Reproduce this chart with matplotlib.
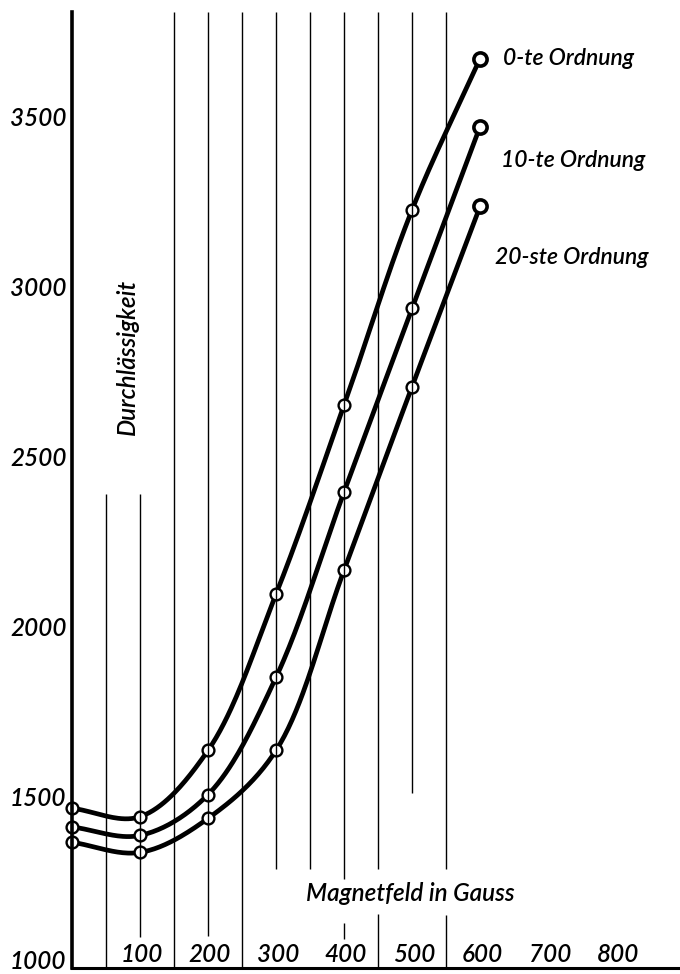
import matplotlib
matplotlib.use('Agg')
import matplotlib.pyplot as plt
import numpy as np

# Durchlässigkeit gegen Magnetfeld, drei Ordnungen
feld = [0, 100, 200, 300, 400, 500, 600]
ord_0 = [1470, 1445, 1640, 2100, 2655, 3230, 3675]
ord_10 = [1415, 1390, 1510, 1855, 2400, 2940, 3475]
ord_20 = [1370, 1340, 1440, 1640, 2170, 2710, 3240]
namen = ['0-te Ordnung', '10-te Ordnung', '20-ste Ordnung']

x_ticks = [100, 200, 300, 400, 500, 600, 700, 800]
y_ticks = [1000, 1500, 2000, 2500, 3000, 3500]

plt.rcParams['font.family'] = ['Lato', 'DejaVu Sans']
plt.rcParams['font.style'] = 'italic'
plt.rcParams['font.weight'] = 'semibold'

SX = 0.68   # Pixel je Gauss
SY = 0.34   # Pixel je Einheit


def kurve(xs, ys, n=40):
    # zentripetaler Catmull-Rom durch die Messpunkte, nur zum Zeichnen
    P = np.column_stack([np.array(xs, float) * SX, np.array(ys, float) * SY])
    P = np.vstack([2 * P[0] - P[1], P, 2 * P[-1] - P[-2]])
    out = []
    for i in range(1, len(P) - 2):
        p0, p1, p2, p3 = P[i - 1], P[i], P[i + 1], P[i + 2]
        t0 = 0.0
        t1 = t0 + np.linalg.norm(p1 - p0) ** 0.5
        t2 = t1 + np.linalg.norm(p2 - p1) ** 0.5
        t3 = t2 + np.linalg.norm(p3 - p2) ** 0.5
        t = np.linspace(t1, t2, n)[:, None]
        a1 = (t1 - t) / (t1 - t0) * p0 + (t - t0) / (t1 - t0) * p1
        a2 = (t2 - t) / (t2 - t1) * p1 + (t - t1) / (t2 - t1) * p2
        a3 = (t3 - t) / (t3 - t2) * p2 + (t - t2) / (t3 - t2) * p3
        b1 = (t2 - t) / (t2 - t0) * a1 + (t - t0) / (t2 - t0) * a2
        b2 = (t3 - t) / (t3 - t1) * a2 + (t - t1) / (t3 - t1) * a3
        c = (t2 - t) / (t2 - t1) * b1 + (t - t1) / (t2 - t1) * b2
        out.append(c)
    c = np.vstack(out)
    return c[:, 0] / SX, c[:, 1] / SY


fig = plt.figure(figsize=(6.8, 9.74), dpi=100)
ax = fig.add_axes([72 / 680, 6 / 974, 608 / 680, 956 / 974])
ax.set_xlim(0, 894)
ax.set_ylim(1000, 3812)

# senkrechte Linien (Stuecke wie im Original)
top = 3812
seg = [(50, 1000, 2395), (100, 1090, 2395), (150, 1000, top), (200, 1095, top),
       (250, 1000, top), (300, 1290, top), (350, 1290, top), (400, 1262, top),
       (400, 1085, 1133), (450, 1290, top), (450, 1000, 1160), (500, 1515, top),
       (550, 1290, top), (550, 1000, 1155)]
for sx, y0, y1 in seg:
    ax.vlines(sx, y0, y1, color='black', lw=1.0, zorder=4)

for ys, nm in zip([ord_0, ord_10, ord_20], namen):
    xx, yy = kurve(feld, ys)
    ax.plot(xx, yy, color='black', lw=3.4, solid_capstyle='round', zorder=2)
    ax.plot(feld[:-1], ys[:-1], 'o', ms=8.5, mfc='white', mec='black', mew=1.7,
            zorder=3, clip_on=False)
    ax.plot(feld[-1:], ys[-1:], 'o', ms=9.5, mfc='white', mec='black', mew=2.6,
            zorder=3, clip_on=False)

# Beschriftungen der Kurven
ax.text(634, ord_0[-1], namen[0], fontsize=16.5, ha='left', va='center')
ax.text(631, 3376, namen[1], fontsize=16.5, ha='left', va='center')
ax.text(622, 3091, namen[2], fontsize=16.5, ha='left', va='center')

ax.text(82, 2797, 'Durchlässigkeit', fontsize=17.5, rotation=90, ha='center', va='center')
ax.text(498, 1220, 'Magnetfeld in Gauss', fontsize=17.5, ha='center', va='center')

for t in x_ticks:
    ax.text(t + 3, 1040, str(t), fontsize=17.5, ha='center', va='center')
for t in y_ticks:
    yy = t if t > 1000 else 1020
    ax.text(-8, yy, str(t), fontsize=17.5, ha='right', va='center')

ax.set_xticks([])
ax.set_yticks([])
ax.spines['top'].set_visible(False)
ax.spines['right'].set_visible(False)
ax.spines['left'].set_linewidth(2.6)
ax.spines['bottom'].set_linewidth(2.2)
ax.spines['left'].set_zorder(4)
ax.patch.set_alpha(0)

fig.savefig('out.png', dpi=100)
